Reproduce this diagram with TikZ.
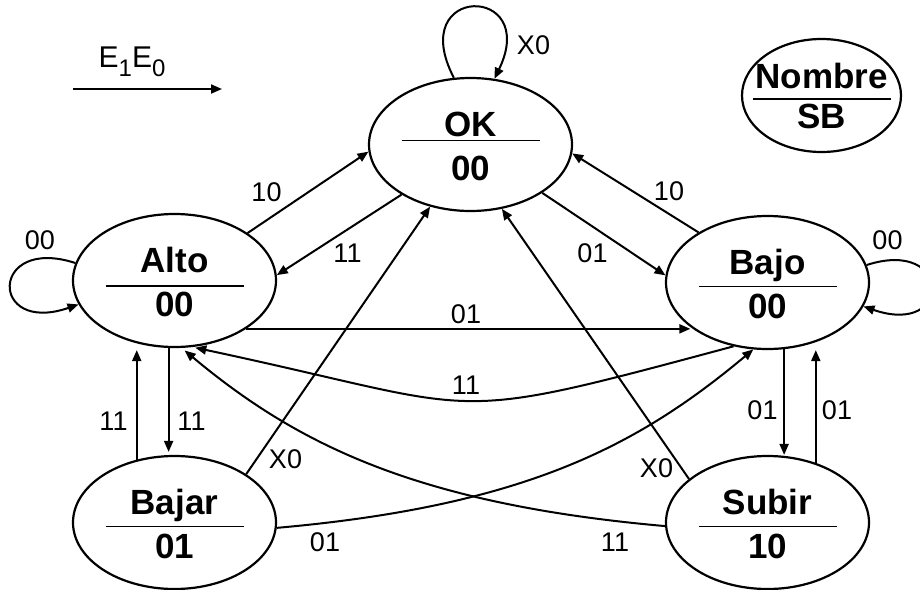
\documentclass[tikz,border=0pt]{standalone}
\usepackage{fontspec}
\setmainfont{Liberation Sans}
\usepackage{tikz}
\usetikzlibrary{calc}
\usetikzlibrary{arrows.meta}
\usetikzlibrary{shapes.geometric}
\tikzset{
 estado/.style={draw, ellipse, line width=2.2pt, minimum width=203pt, minimum height=133pt, inner sep=0pt},
 nomestado/.style={font=\fontsize{35}{40}\selectfont\bfseries, anchor=base, inner sep=0pt},
 etiqueta/.style={font=\fontsize{27}{30}\selectfont, inner sep=0pt},
 flecha/.style={line width=2pt, -{Triangle[length=11pt,width=9pt]}}
}
% #1 = offset of the rule, #2 = name, #3 = centre, #4 = state, #5 = output
\newcommand{\estado}[5][4]{
 \node[estado] (#2) at (#3) {};
 \node[nomestado] (#2-n) at ($(#2)+(0,-8.5)$) {#4};
 \node[nomestado] (#2-s) at ($(#2)+(0,35.5)$) {#5};
 \draw[line width=1.3pt] ($(#2)+(-69,#1)$) -- ($(#2)+(69,#1)$);
}

\begin{document}
\begin{tikzpicture}[x=1pt, y=-1pt]
\useasboundingbox (0,0) rectangle (920,589);

\estado[-3.8]{ok}{470.5,144.5}{OK}{00}
\estado[5.5]{alto}{174.5,280.5}{Alto}{00}
\estado{bajo}{767.5,282.5}{Bajo}{00}
\estado{bajar}{174.5,522.5}{Bajar}{01}
\estado{subir}{767.5,522.5}{Subir}{10}

% legend
\node[estado, minimum width=159pt, minimum height=113pt] (leyenda) at (821.5,95.5) {};
\node[nomestado] (leyenda-n) at ($(leyenda)+(0,-7.5)$) {Nombre};
\node[nomestado] (leyenda-s) at ($(leyenda)+(0,32.5)$) {SB};
\draw[line width=1.3pt] ($(leyenda)+(-69,3.5)$) -- ($(leyenda)+(69,3.5)$);

\node[anchor=base, inner sep=0pt, font=\fontsize{30}{34}\selectfont] (entradas) at (132,67)
 {E\raisebox{-9pt}{\fontsize{24}{24}\selectfont 1}E\raisebox{-9pt}{\fontsize{24}{24}\selectfont 0}};
\coordinate (e-ini) at (73,89);
\coordinate (e-fin) at (222,89);
\draw[flecha] (e-ini) -- (e-fin);

% self loops
\draw[flecha] (ok.104) .. controls +(-49,-94) and +(46,-95) .. (ok.70);
\draw[flecha] (alto.170) .. controls +(-86,-28) and +(-90,31) .. (alto.194);
\draw[flecha] (bajo.10) .. controls +(86,-28) and +(90,31) .. (bajo.-14);

% transitions
\draw[flecha] (alto.33) -- (ok.184);
\draw[flecha] (ok.216) -- (alto.3);
\draw[flecha] (bajo.144) -- (ok.355);
\draw[flecha] (ok.326) -- (bajo.176);
\draw[flecha] (alto.-34.5) -- (alto.-34.5 -| bajo.210);
\draw[flecha, shorten >=3pt] (bajo.242) .. controls +(-298,80) and +(301,64) .. (alto.285);
\draw[flecha, shorten >=3pt] (alto.265) -- (alto.265 |- bajar.north);
\draw[flecha, shorten >=2pt] (bajar.121) -- (bajar.121 |- alto.south);
\draw[flecha] (bajar.34.5) -- (ok.237);
\draw[flecha] (subir.151) -- (ok.296);
\draw[flecha] (bajar.357.5) .. controls +(249,-22) and +(-115,96) .. (bajo.258);
\draw[flecha, shorten >=4pt] (subir.182.5) .. controls +(-249,-22) and +(115,96) .. (alto.276);
\draw[flecha] (bajo.284) -- (bajo.284 |- subir.north);
\draw[flecha] (subir.51) -- (subir.51 |- bajo.south);

% labels
\foreach \t/\p [count=\i] in {X0/{533.5,45}, 00/{40,240.5}, 00/{887.5,240},
  10/{266.5,192}, 11/{347.5,253}, 10/{669,191.5}, 01/{592.5,253.5},
  01/{466,314}, 11/{466,385}, 11/{113.5,421}, 11/{191.5,421},
  X0/{285.5,459.5}, 01/{325,542.5}, X0/{656.5,468.5}, 11/{615,542.5},
  01/{762.5,410}, 01/{837,410}}
 \node[etiqueta] (lab\i) at (\p) {\t};
\end{tikzpicture}
\end{document}
